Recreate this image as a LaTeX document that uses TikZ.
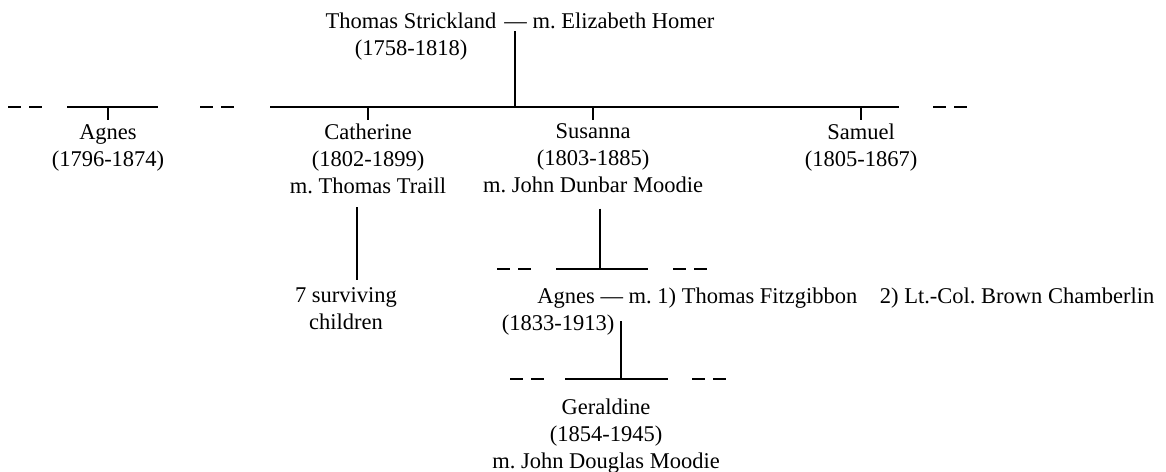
\documentclass[tikz,border=0pt]{standalone}
\usepackage{fontspec}
\setmainfont{Liberation Serif}
\usetikzlibrary{calc}

\tikzstyle{person} = [align=center, inner sep=0pt, anchor=north,
font=\fontsize{11.25pt}{13.5pt}\selectfont\frenchspacing]
\tikzstyle{spouse} = [inner sep=0pt, anchor=base west,
font=\fontsize{11.25pt}{13.5pt}\selectfont\frenchspacing]
\tikzstyle{line} = [line width=0.8pt]
\tikzstyle{tick} = [line width=0.8pt, shorten >=2pt]
\tikzstyle{descent} = [line width=0.8pt, shorten <=6.5pt]
\tikzstyle{gapline} = [line width=0.8pt, dash pattern=on 6.5pt off 4pt]

\begin{document}
\begin{tikzpicture}[x=0.5pt, y=-0.5pt]
    \useasboundingbox (0,0) rectangle (1166,471);

    \node (thomas) [person] at (411,12.6) {Thomas Strickland\\(1758-1818)};
    \node (homer) [spouse] at (504,28) {— m. Elizabeth Homer};
    \node (agnes) [person] at (108,124) {Agnes\\(1796-1874)};
    \node (catherine) [person] at (368,123.6) {Catherine\\(1802-1899)\\m. Thomas Traill};
    \node (susanna) [person] at (593,123.6) {Susanna\\(1803-1885)\\m. John Dunbar Moodie};
    \node (samuel) [person] at (861,123.6) {Samuel\\(1805-1867)};
    \node (children) [person] at (346,287.6) {7 surviving\\children};
    \node (agnesm) [spouse] at (537,303) {Agnes — m. 1) Thomas Fitzgibbon\quad 2) Lt.-Col. Brown Chamberlin};
    \node (agnesd) [person, anchor=base] at (558,330) {(1833-1913)};
    \node (geraldine) [person] at (606,398.6) {Geraldine\\(1854-1945)\\m. John Douglas Moodie};

    \coordinate (wed) at (515,31);
    \coordinate (bar) at (515,107);
    \coordinate (barL) at (270,107);
    \coordinate (barR) at (899,107);
    \coordinate (abarL) at (67,107);
    \coordinate (abarR) at (158,107);
    \coordinate (sbar) at (600,269);
    \coordinate (sbarL) at (556,269);
    \coordinate (sbarR) at (648,269);
    \coordinate (gbar) at (621,379);
    \coordinate (gbarL) at (565,379);
    \coordinate (gbarR) at (668,379);
    \coordinate (cmid) at ($(catherine.south)!.5!(children.north)$);

    \draw [line] (wed) -- (bar);
    \draw [line] (barL) -- (barR);
    \draw [line] (abarL) -- (abarR);
    \draw [gapline] (abarL) ++(-59,0) -- ++(34,0);
    \draw [gapline] (barL) ++(-70,0) -- ++(34,0);
    \draw [gapline] (barR) ++(34,0) -- ++(34,0);
    \draw [tick] (agnes.north |- abarL) -- (agnes.north);
    \draw [tick] (catherine.north |- bar) -- (catherine.north);
    \draw [tick] (susanna.north |- bar) -- (susanna.north);
    \draw [tick] (samuel.north |- bar) -- (samuel.north);
    \draw [descent, shorten >=3.8pt] (cmid |- catherine.south) -- (cmid |- children.north);
    \draw [descent, shorten <=7.5pt] (sbar |- susanna.south) -- (sbar);
    \draw [line] (sbarL) -- (sbarR);
    \draw [gapline] (sbarL) ++(-59,0) -- ++(34,0);
    \draw [gapline] (sbarR) ++(25,0) -- ++(34,0);
    \draw [descent] (gbar |- agnesm.south) -- (gbar);
    \draw [line] (gbarL) -- (gbarR);
    \draw [gapline] (gbarL) ++(-55,0) -- ++(34,0);
    \draw [gapline] (gbarR) ++(24,0) -- ++(34,0);
\end{tikzpicture}
\end{document}
